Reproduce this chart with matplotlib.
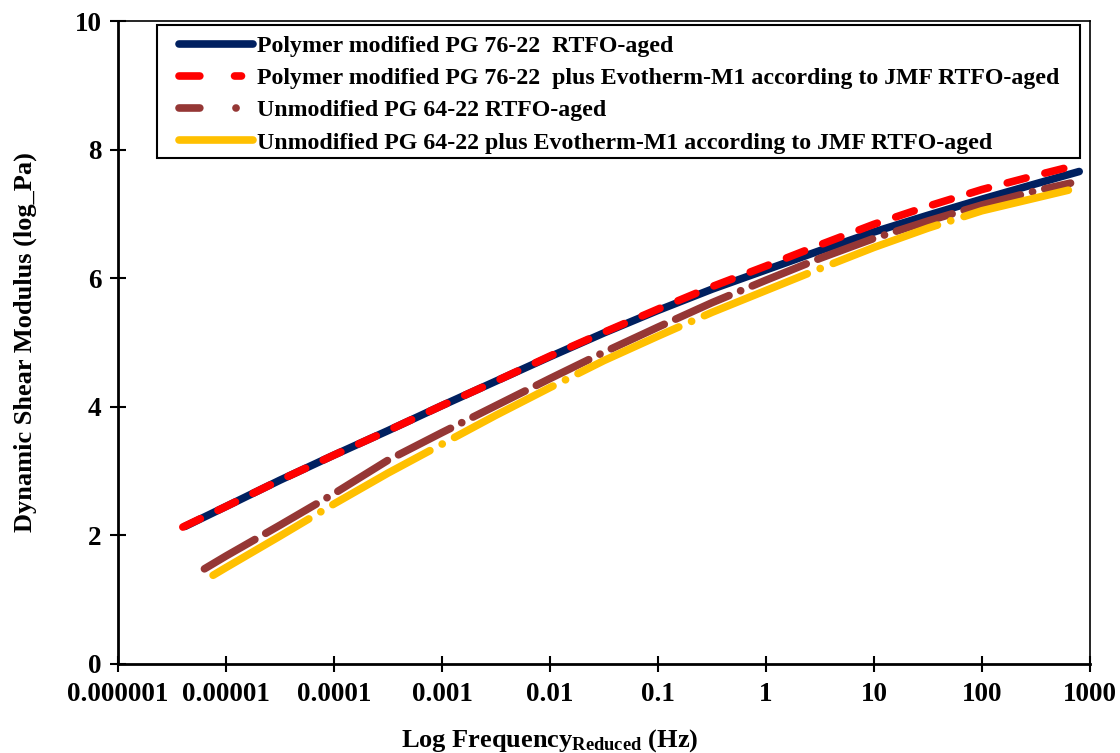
import numpy as np
import matplotlib
matplotlib.use("Agg")
import matplotlib.pyplot as plt
from matplotlib.lines import Line2D
from matplotlib.patches import Rectangle

plt.rcParams["font.family"] = ["Liberation Serif", "DejaVu Serif"]
plt.rcParams["font.weight"] = "bold"
plt.rcParams["mathtext.fontset"] = "custom"
plt.rcParams["mathtext.rm"] = "Liberation Serif:bold"
plt.rcParams["mathtext.it"] = "Liberation Serif:bold"
plt.rcParams["mathtext.bf"] = "Liberation Serif:bold"
plt.rcParams["lines.scale_dashes"] = False

# Master curves: log10 of reduced frequency (Hz) and log10 of |G*| (Pa)
pmb_logf = [-5.38, -5.0, -4.5, -4.0, -3.5, -3.0, -2.5, -2.0, -1.5, -1.0,
            -0.5, 0.0, 0.5, 1.0, 1.5, 2.0, 2.5, 2.9]
pmb_g = [2.14, 2.45, 2.86, 3.25, 3.63, 4.02, 4.40, 4.78, 5.15, 5.50,
         5.83, 6.13, 6.43, 6.72, 6.98, 7.23, 7.47, 7.66]

pmb_evo_logf = [-5.40, -5.0, -4.5, -4.0, -3.5, -3.0, -2.5, -2.0, -1.5, -1.0,
                -0.5, 0.0, 0.5, 1.0, 1.5, 2.0, 2.5, 2.88]
pmb_evo_g = [2.13, 2.45, 2.86, 3.25, 3.63, 4.02, 4.40, 4.79, 5.16, 5.52,
             5.87, 6.19, 6.52, 6.84, 7.12, 7.38, 7.60, 7.76]

base_logf = [-5.2, -5.0, -4.5, -4.0, -3.5, -3.0, -2.5, -2.0, -1.5, -1.0,
             -0.5, 0.0, 0.5, 1.0, 1.5, 2.0, 2.5, 2.82]
base_g = [1.48, 1.68, 2.16, 2.65, 3.17, 3.60, 4.02, 4.44, 4.85, 5.24,
          5.62, 5.97, 6.31, 6.62, 6.89, 7.14, 7.36, 7.48]

base_evo_logf = [-5.12, -5.0, -4.5, -4.0, -3.5, -3.0, -2.5, -2.0, -1.5, -1.0,
                 -0.5, 0.0, 0.5, 1.0, 1.5, 2.0, 2.5, 2.8]
base_evo_g = [1.38, 1.50, 1.99, 2.49, 2.97, 3.42, 3.87, 4.30, 4.72, 5.10,
              5.47, 5.81, 6.15, 6.48, 6.78, 7.05, 7.25, 7.37]

labels = [
    "Polymer modified PG 76-22  RTFO-aged",
    "Polymer modified PG 76-22  plus Evotherm-M1 according to JMF RTFO-aged",
    "Unmodified PG 64-22 RTFO-aged",
    "Unmodified PG 64-22 plus Evotherm-M1 according to JMF RTFO-aged",
]
colors = ["#002060", "#FF0000", "#953735", "#FFC000"]

x_ticks = [1e-6, 1e-5, 1e-4, 1e-3, 1e-2, 1e-1, 1, 10, 100, 1000]
x_ticklabels = ["0.000001", "0.00001", "0.0001", "0.001", "0.01", "0.1",
                "1", "10", "100", "1000"]
y_ticks = [0, 2, 4, 6, 8, 10]

fig = plt.figure(figsize=(11.2, 7.53), dpi=100)
ax = fig.add_axes([0.1054, 0.1182, 0.8678, 0.8538])

lw = 5.5
line_styles = ["-", (0, (14, 14)), (0, (42, 9, 42, 9, 0.1, 9)),
               (0, (80, 10, 0.1, 10))]
legend_styles = ["-", (0, (15, 25, 5, 40)), (0, (15, 26, 0.1, 40)), "-"]
series = [(pmb_logf, pmb_g), (pmb_evo_logf, pmb_evo_g),
          (base_logf, base_g), (base_evo_logf, base_evo_g)]

handles = []
for (lf, g), c, ls, hls, lab in zip(series, colors, line_styles,
                                    legend_styles, labels):
    x = np.power(10.0, np.asarray(lf))
    ax.plot(x, g, color=c, lw=lw, linestyle=ls,
            solid_capstyle="round", dash_capstyle="round")
    handles.append(Line2D([0], [0], color=c, lw=lw, linestyle=hls,
                          solid_capstyle="round", dash_capstyle="round",
                          label=lab))

ax.set_xscale("log")
ax.set_xlim(1e-6, 1000)
ax.set_ylim(0, 10)
ax.set_xticks(x_ticks)
ax.set_xticklabels(x_ticklabels)
ax.minorticks_off()
ax.set_yticks(y_ticks)

for s in ax.spines.values():
    s.set_linewidth(1.2)
    s.set_color("black")
ax.spines["left"].set_linewidth(2.0)
ax.spines["bottom"].set_linewidth(2.0)

ax.tick_params(axis="both", which="major", direction="inout", length=12,
               width=1.5, labelsize=19.5, pad=6)
ax.tick_params(axis="x", pad=7)

ax.set_xlabel("Log Frequency$_{\\rm Reduced}$ (Hz)", fontsize=19,
              fontweight="bold")
ax.xaxis.set_label_coords(0.444, -0.098)
ax.set_ylabel("Dynamic Shear Modulus (log_Pa)", fontsize=19,
              fontweight="bold", labelpad=27)

# legend frame drawn separately so the entries can sit with a wider left margin
frame = Rectangle((0.040, 0.787), 0.9497, 0.2068, transform=ax.transAxes,
                  facecolor="white", edgecolor="black", lw=1.5, zorder=4)
ax.add_patch(frame)
leg = ax.legend(handles=handles, loc="upper left",
                bbox_to_anchor=(0.063, 0.978), frameon=False,
                fontsize=17.2, handlelength=3.1, handletextpad=0.15,
                borderaxespad=0, borderpad=0, labelspacing=0.44)
leg.set_zorder(5)
for t in leg.get_texts():
    t.set_fontweight("bold")

fig.savefig("out.png", dpi=100)
